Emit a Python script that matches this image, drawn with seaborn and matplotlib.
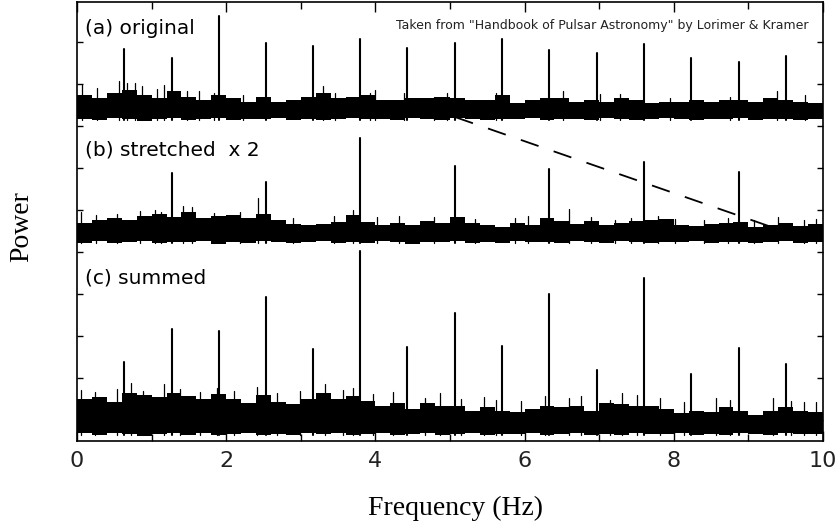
import numpy as np
import pandas as pd
import matplotlib
matplotlib.use("Agg")
import matplotlib.pyplot as plt
import seaborn as sns

# harmonics of the pulsar signal (Hz) and their heights above each panel's noise floor
harm_hz = [0.63, 1.27, 1.90, 2.53, 3.17, 3.80, 4.43, 5.07, 5.70, 6.33, 6.97, 7.60, 8.23, 8.87, 9.50]
peak_a = [1.71, 1.50, 2.50, 1.86, 1.79, 1.95, 1.74, 1.86, 1.95, 1.69, 1.62, 1.83, 1.50, 1.40, 1.55]
harm_b_hz = [1.27, 2.53, 3.80, 5.07, 6.33, 7.60, 8.87]
peak_b = [1.69, 1.48, 2.52, 1.86, 1.79, 1.95, 1.71]
peak_c = [1.76, 2.55, 2.50, 3.31, 2.07, 4.40, 2.12, 2.93, 2.14, 3.38, 1.57, 3.76, 1.48, 2.10, 1.71]

# solid part of the noise band, one reading per 0.2 Hz bin (last entry closes the 10 Hz edge)
grid_hz = np.round(np.arange(0, 10.01, 0.2), 1)
top_a = [0.62, 0.54, 0.66, 0.74, 0.62, 0.54, 0.70, 0.58, 0.50, 0.62,
         0.54, 0.46, 0.58, 0.46, 0.50, 0.58, 0.66, 0.54, 0.58, 0.62,
         0.50, 0.50, 0.54, 0.54, 0.58, 0.54, 0.50, 0.50, 0.62, 0.42,
         0.50, 0.54, 0.54, 0.46, 0.50, 0.46, 0.54, 0.50, 0.42, 0.46,
         0.46, 0.50, 0.46, 0.50, 0.50, 0.46, 0.54, 0.50, 0.46, 0.42,
         0.42]
top_b = [0.51, 0.56, 0.62, 0.56, 0.66, 0.72, 0.64, 0.76, 0.62, 0.66,
         0.68, 0.62, 0.72, 0.56, 0.48, 0.44, 0.48, 0.52, 0.68, 0.52,
         0.46, 0.51, 0.46, 0.54, 0.50, 0.64, 0.50, 0.46, 0.40, 0.50,
         0.46, 0.62, 0.54, 0.48, 0.54, 0.44, 0.50, 0.54, 0.56, 0.60,
         0.46, 0.43, 0.47, 0.51, 0.52, 0.40, 0.44, 0.51, 0.43, 0.48,
         0.46]
top_c = [0.88, 0.93, 0.80, 1.02, 0.98, 0.93, 1.02, 0.94, 0.87, 1.01,
         0.87, 0.78, 0.98, 0.80, 0.75, 0.87, 1.02, 0.88, 0.94, 0.83,
         0.72, 0.78, 0.64, 0.78, 0.71, 0.72, 0.60, 0.68, 0.60, 0.56,
         0.64, 0.72, 0.68, 0.72, 0.60, 0.78, 0.75, 0.71, 0.72, 0.64,
         0.55, 0.60, 0.56, 0.68, 0.60, 0.51, 0.60, 0.68, 0.60, 0.56,
         0.58]
bot_a = [0.05, 0.02, 0.07, 0.04, 0.00, 0.05, 0.08, 0.03, 0.05, 0.06,
         0.02, 0.05, 0.04, 0.07, 0.03, 0.05, 0.01, 0.04, 0.06, 0.04,
         0.05, 0.02, 0.07, 0.04, 0.03, 0.06, 0.04, 0.01, 0.05, 0.04,
         0.07, 0.03, 0.05, 0.04, 0.01, 0.06, 0.04, 0.03, 0.05, 0.07,
         0.04, 0.02, 0.05, 0.04, 0.06, 0.03, 0.05, 0.04, 0.01, 0.04,
         0.05]
bot_b = [0.03, 0.06, 0.02, 0.05, 0.07, 0.02, 0.05, 0.04, 0.06, 0.01,
         0.05, 0.03, 0.06, 0.04, 0.02, 0.05, 0.07, 0.03, 0.05, 0.02,
         0.06, 0.04, 0.01, 0.05, 0.04, 0.07, 0.03, 0.05, 0.02, 0.06,
         0.04, 0.05, 0.02, 0.06, 0.04, 0.03, 0.07, 0.04, 0.02, 0.05,
         0.04, 0.06, 0.03, 0.04, 0.05, 0.02, 0.04, 0.06, 0.03, 0.05,
         0.04]
bot_c = [0.06, 0.02, 0.08, 0.04, 0.01, 0.05, 0.07, 0.03, 0.06, 0.02,
         0.04, 0.08, 0.03, 0.05, 0.02, 0.06, 0.04, 0.07, 0.02, 0.04,
         0.06, 0.03, 0.05, 0.08, 0.02, 0.04, 0.06, 0.02, 0.05, 0.04,
         0.07, 0.02, 0.04, 0.06, 0.03, 0.05, 0.02, 0.07, 0.04, 0.04,
         0.06, 0.02, 0.05, 0.03, 0.07, 0.04, 0.02, 0.06, 0.04, 0.05,
         0.03]

# thin noise spikes sticking out above each band
hair_a_hz = [0.07, 0.27, 0.56, 0.67, 0.78, 0.87, 1.07, 1.17, 1.47, 1.63, 1.83, 2.23, 3.30, 3.46,
             3.93, 4.00, 4.38, 4.78, 4.96, 5.61, 6.52, 7.01, 7.28, 7.95, 8.76, 9.38, 9.76]
hair_a = [0.86, 0.78, 0.94, 0.90, 0.91, 0.82, 0.75, 0.86, 0.70, 0.70, 0.66, 0.62, 0.82, 0.66,
          0.66, 0.74, 0.66, 0.58, 0.66, 0.66, 0.70, 0.64, 0.64, 0.55, 0.58, 0.72, 0.62]
hair_b_hz = [0.06, 0.26, 0.53, 0.84, 1.04, 1.13, 1.42, 1.54, 1.83, 2.18, 2.43, 2.90, 3.44, 3.70,
             4.02, 4.31, 4.79, 5.33, 5.87, 6.04, 6.60, 6.89, 7.21, 7.43, 7.79, 8.01, 8.41, 8.73,
             9.08, 9.40, 9.75, 9.91]
hair_b = [0.75, 0.70, 0.72, 0.78, 0.80, 0.76, 0.90, 0.88, 0.74, 0.76, 1.10, 0.62, 0.66, 0.80,
          0.64, 0.66, 0.64, 0.60, 0.62, 0.66, 0.83, 0.64, 0.58, 0.62, 0.66, 0.60, 0.58, 0.62,
          0.56, 0.64, 0.58, 0.60]
hair_c_hz = [0.06, 0.24, 0.53, 0.73, 0.89, 1.16, 1.38, 1.65, 1.87, 2.10, 2.41, 2.68, 2.99, 3.32,
             3.57, 3.70, 3.97, 4.24, 4.66, 4.86, 5.15, 5.46, 5.62, 5.95, 6.27, 6.60, 6.76, 7.14,
             7.30, 7.50, 7.81, 8.14, 8.57, 8.75, 9.33, 9.57, 9.75, 9.91]
hair_c = [1.10, 1.05, 1.12, 1.25, 1.08, 1.23, 1.12, 1.05, 1.15, 1.08, 1.17, 1.02, 1.06, 1.23,
          1.10, 1.15, 1.00, 1.04, 0.90, 1.03, 0.88, 0.92, 0.86, 0.84, 0.95, 0.90, 0.96, 0.86,
          1.03, 0.98, 0.91, 0.82, 0.91, 0.86, 0.91, 0.84, 0.80, 0.82]

panel_labels = ["(a) original", "(b) stretched  x 2", "(c) summed"]
credit = "Taken from \"Handbook of Pulsar Astronomy\" by Lorimer & Kramer"

# vertical offset of each panel on the shared axis
base = {"a": 7.12, "b": 4.19, "c": -0.38}


def spike_frame(hz, heights, floor):
    rows = []
    for i, (f, h) in enumerate(zip(hz, heights)):
        rows.append((i, f, floor + 0.03))
        rows.append((i, f, floor + h))
    return pd.DataFrame(rows, columns=["id", "freq", "power"])


def draw_panel(ax, floor, top, bot, hz, peaks, h_hz, h_pk):
    ax.fill_between(grid_hz, floor + np.array(bot), floor + np.array(top),
                    step="post", color="black", lw=0)
    sns.lineplot(data=spike_frame(h_hz, h_pk, floor), x="freq", y="power", units="id",
                 estimator=None, sort=False, color="black", lw=0.9, ax=ax)
    sns.lineplot(data=spike_frame(hz, peaks, floor), x="freq", y="power", units="id",
                 estimator=None, sort=False, color="black", lw=1.5, ax=ax)


sns.set_theme(style="ticks")
plt.rcParams["font.family"] = ["DejaVu Sans"]
plt.rcParams["text.color"] = "black"
plt.rcParams["xtick.color"] = "black"
plt.rcParams["ytick.color"] = "black"
plt.rcParams["lines.scale_dashes"] = False

fig = plt.figure(figsize=(8.38, 5.29), dpi=100)
ax = fig.add_axes([77 / 838, 88 / 529, 746 / 838, 439 / 529])

draw_panel(ax, base["a"], top_a, bot_a, harm_hz, peak_a, hair_a_hz, hair_a)
draw_panel(ax, base["b"], top_b, bot_b, harm_b_hz, peak_b, hair_b_hz, hair_b)
draw_panel(ax, base["c"], top_c, bot_c, harm_hz, peak_c, hair_c_hz, hair_c)

ax.plot([5.07, 9.30], [7.21, 4.60], color="black", lw=1.3, dashes=(13.5, 11.5))

ax.set_xlim(0, 10)
ax.set_ylim(-0.5, 9.95)
ax.set_xticks([0, 2, 4, 6, 8, 10])
ax.set_xticks([1, 3, 5, 7, 9], minor=True)
ax.set_yticks(range(10))
ax.set_yticklabels([])
ax.set_xlabel("")
ax.set_ylabel("")
ax.tick_params(axis="x", which="both", direction="in", top=True, bottom=True,
               width=1, labelsize=16, pad=7, labelcolor="#222222")
ax.tick_params(axis="x", which="major", length=7.5)
ax.tick_params(axis="x", which="minor", length=5)
ax.tick_params(axis="y", direction="in", left=True, right=True, length=4.5, width=1)
for sp in ax.spines.values():
    sp.set_linewidth(1.2)
    sp.set_color("black")

ax.text(0.11, 9.31, panel_labels[0], fontsize=14.5, va="center", ha="left")
ax.text(0.11, 6.43, panel_labels[1], fontsize=14.5, va="center", ha="left")
ax.text(0.11, 3.38, panel_labels[2], fontsize=14.5, va="center", ha="left")
ax.text(9.80, 9.40, credit, fontsize=9, va="center", ha="right", color="#222222")

fig.text(22 / 838, 1 - 227 / 529, "Power", family="Liberation Serif", fontsize=20,
         rotation=90, ha="center", va="center")
fig.text(455 / 838, 1 - 508 / 529, "Frequency (Hz)", family="Liberation Serif",
         fontsize=20, ha="center", va="center")

fig.savefig("out.png", dpi=100)
